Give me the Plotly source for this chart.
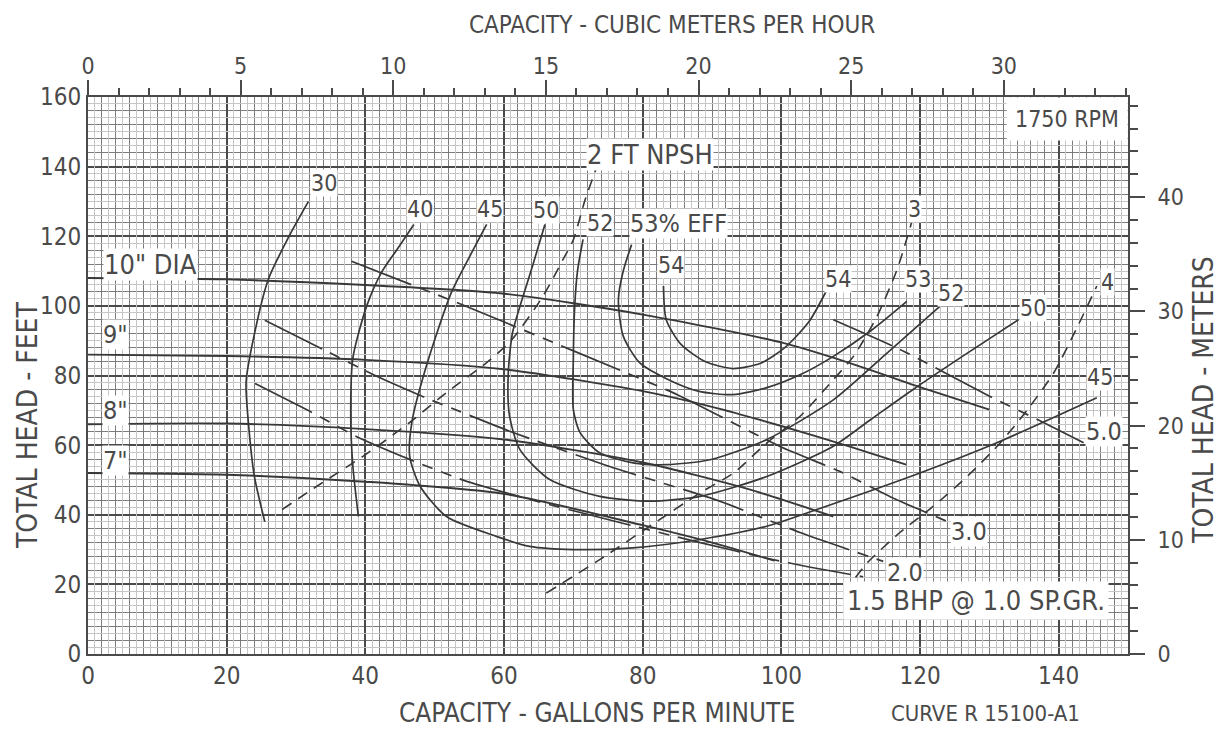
import plotly.graph_objects as go

GPM_TO_M3H = 0.2271247
FT_TO_M = 0.3048
Q_MAX = 150
H_MAX = 160

# ---------------- head-capacity curves (GPM, ft) ----------------
head_10_q = [0, 20, 40, 60, 80, 100, 110, 121, 130]
head_10_h = [108, 107.6, 106, 103.5, 97.5, 89.5, 83.5, 76, 70.2]
head_9_q = [0, 20, 40, 60, 80, 90, 100, 110, 118]
head_9_h = [86, 85.6, 84.5, 81.8, 75.5, 71, 65.5, 59.5, 54.4]
head_8_q = [0, 20, 40, 60, 80, 95, 107.5]
head_8_h = [66, 66.2, 64.6, 61.6, 55, 47.5, 39.5]
head_7_q = [0, 20, 40, 60, 80, 90, 99]
head_7_h = [52, 51.5, 49.5, 46, 37, 32, 26.8]

# ---------------- efficiency curves ----------------
eff_30_q = [31.8, 29.0, 26.0, 23.8, 22.8, 23.2, 24.0, 25.5]
eff_30_h = [130, 120, 107.6, 90, 78, 65, 51, 38]
eff_40_q = [47, 44.5, 42.3, 40.2, 38.2, 37.9, 38.2, 39]
eff_40_h = [123.4, 116, 109.5, 100, 85, 68, 54, 39.5]
eff_45_q = [57.5, 55, 52.4, 48.8, 46.7, 46.4, 47.9, 51.7, 58.9, 63.7, 70, 78.6, 88.3, 97.9, 107, 120, 131, 145.5]
eff_45_h = [123.4, 114, 103.8, 82.7, 66.4, 56.8, 48.2, 39.5, 33.8, 30.9, 30, 30.5, 32.9, 36.7, 42.8, 52, 60.6, 73.6]
eff_50_q = [65.9, 64.2, 62.6, 61.2, 60.6, 60.8, 62.3, 66.6, 73.8, 81, 88.3, 97.9, 107.5, 113, 119, 126.5, 134.2]
eff_50_h = [123.4, 112, 101.8, 92, 80, 68.3, 58.7, 50.1, 45.3, 43.9, 45.3, 51, 59.7, 67.5, 76, 86, 96]
eff_52_q = [71.4, 70.6, 70.2, 70.0, 70.0, 71.0, 73.8, 78.6, 83.5, 89.7, 97.9, 107.5, 115, 122.9]
eff_52_h = [119.1, 110, 99.9, 85, 70.2, 63.5, 57.8, 54.9, 54.4, 55.8, 61.6, 73, 86, 99.9]
eff_53_q = [78.4, 77.2, 76.5, 77.2, 79.6, 83.5, 88, 93, 97.9, 103, 107.5, 113, 118.1]
eff_53_h = [117.6, 110, 101.8, 91.3, 83.6, 79, 75.5, 74.5, 76.5, 80.5, 85.5, 93, 101.3]
eff_54_q = [83, 83.4, 85.5, 89, 93, 97, 100.5, 104, 106.6]
eff_54_h = [105.7, 96, 89, 84, 82, 83.5, 88, 95.5, 104.7]

# ---------------- NPSH curves ----------------
npsh_2_q = [28, 33.4, 39.6, 46.4, 51.7, 57.5, 61, 65.6, 68.5, 70, 71.7, 73.4]
npsh_2_h = [41.5, 48.7, 56.7, 66.5, 75.1, 83.7, 90, 102.7, 113.3, 119, 130.5, 140]
npsh_3_q = [66.1, 73.8, 81, 88.3, 93.1, 97.9, 102.7, 107.5, 110.4, 113.8, 116.7, 118.8]
npsh_3_h = [17.5, 27.1, 36.7, 46.3, 52, 60.6, 68.3, 78.8, 85.5, 97, 110.5, 124]
npsh_4_q = [110.7, 112.4, 117.1, 121.9, 126.8, 131.6, 135.5, 139.3, 142.7, 145.5]
npsh_4_h = [22, 26.2, 34.9, 42.4, 51, 60.7, 70.2, 80.8, 94, 105.7]

# ---------------- BHP lines ----------------
bhp_15_q = [24.1, 32, 38.7, 46.4, 54.3, 63.7, 79.2, 88.3, 98.4, 104, 111.8]
bhp_15_h = [77.7, 69.7, 62.5, 55.9, 49.8, 44.4, 36.5, 32, 27.3, 25, 22.2]
bhp_20_q = [25.5, 33.9, 41.1, 49.3, 53.6, 60.8, 75, 91, 102.7, 114.7]
bhp_20_h = [95.9, 87.5, 80.3, 73.1, 69.7, 64, 54, 44, 34.9, 26.6]
bhp_30_q = [38, 53.9, 69.5, 85, 99.8, 108.5, 115.7, 124]
bhp_30_h = [112.8, 100.4, 87.5, 74.5, 59.6, 52.4, 45.2, 38]
bhp_50_q = [107.5, 117.1, 130.1, 137.8, 143.6]
bhp_50_h = [96, 87.5, 74, 66.5, 60.7]

# tick labels
gpm_ticks = [0, 20, 40, 60, 80, 100, 120, 140]
ft_ticks = [0, 20, 40, 60, 80, 100, 120, 140, 160]
m3h_ticks = [0, 5, 10, 15, 20, 25, 30]
m_ticks = [0, 10, 20, 30, 40]

FONT = "DejaVu Sans Condensed, DejaVu Sans, sans-serif"
INK = "#383838"
TXT = "#4a4a4a"

fig = go.Figure()

def curve(q, h, width=1.6, dash="solid", shape="spline", smoothing=0.7):
    fig.add_trace(go.Scatter(
        x=q, y=h, mode="lines", xaxis="x", yaxis="y",
        line=dict(color=INK, width=width, dash=dash, shape=shape,
                  smoothing=smoothing if shape == "spline" else None),
        showlegend=False, hoverinfo="skip"))

for q, h in [(head_10_q, head_10_h), (head_9_q, head_9_h),
             (head_8_q, head_8_h), (head_7_q, head_7_h)]:
    curve(q, h, width=1.9)

for q, h in [(eff_30_q, eff_30_h), (eff_40_q, eff_40_h), (eff_45_q, eff_45_h),
             (eff_50_q, eff_50_h), (eff_52_q, eff_52_h), (eff_53_q, eff_53_h),
             (eff_54_q, eff_54_h)]:
    curve(q, h, width=1.7)

for q, h in [(npsh_2_q, npsh_2_h), (npsh_3_q, npsh_3_h), (npsh_4_q, npsh_4_h)]:
    curve(q, h, width=1.6, dash="11px,8px")

for q, h in [(bhp_15_q, bhp_15_h), (bhp_20_q, bhp_20_h),
             (bhp_30_q, bhp_30_h), (bhp_50_q, bhp_50_h)]:
    curve(q, h, width=1.7, dash="64px,9px,11px,9px,11px,9px", smoothing=0.5)

# secondary axes (top m3/h, right m) and faint grid axes
fig.add_trace(go.Scatter(x=[None], y=[None], xaxis="x2", yaxis="y2",
                         showlegend=False, hoverinfo="skip"))
fig.add_trace(go.Scatter(x=[None], y=[None], xaxis="x3", yaxis="y3",
                         showlegend=False, hoverinfo="skip"))

MAJOR = "#4a4a4a"
MINOR = "#7c7c7c"
FAINT = "#c6c6c6"

fig.update_layout(
    width=1214, height=723,
    margin=dict(l=80, r=94, t=89, b=77, autoexpand=False),
    paper_bgcolor="white", plot_bgcolor="white",
    font=dict(family=FONT, color=TXT),
    xaxis=dict(range=[0, Q_MAX], tickvals=gpm_ticks, showgrid=True, automargin=False,
               gridcolor=MAJOR, gridwidth=1.6, zeroline=False,
               showline=True, linecolor=MAJOR, linewidth=2, ticks="",
               ticklabelstandoff=-1,
               tickfont=dict(size=24, color=TXT, family=FONT),
               minor=dict(dtick=2, showgrid=True, gridcolor=MINOR, gridwidth=1, ticks="")),
    yaxis=dict(range=[0, H_MAX], tickvals=ft_ticks, showgrid=True, automargin=False,
               gridcolor=MAJOR, gridwidth=1.6, zeroline=False,
               showline=True, linecolor=MAJOR, linewidth=2, ticks="",
               ticklabelstandoff=0,
               tickfont=dict(size=24, color=TXT, family=FONT),
               minor=dict(dtick=4, showgrid=True, gridcolor=MINOR, gridwidth=1, ticks="")),
    xaxis2=dict(overlaying="x", side="top", anchor="y", automargin=False,
                range=[0, Q_MAX * GPM_TO_M3H], tickvals=m3h_ticks,
                showgrid=False, zeroline=False, showline=True,
                linecolor=MAJOR, linewidth=2, ticks="outside", ticklen=15,
                tickwidth=1.5, tickcolor=MAJOR, ticklabelstandoff=-3,
                tickfont=dict(size=23, color=TXT, family=FONT),
                minor=dict(dtick=1, ticks="outside", ticklen=7, tickwidth=1.5,
                           tickcolor=MAJOR, showgrid=False)),
    yaxis2=dict(overlaying="y", side="right", anchor="x", automargin=False,
                range=[0, H_MAX * FT_TO_M], tickvals=m_ticks,
                showgrid=False, zeroline=False, showline=True,
                linecolor=MAJOR, linewidth=2, ticks="outside", ticklen=15,
                tickwidth=1.5, tickcolor=MAJOR, ticklabelstandoff=8,
                tickfont=dict(size=23, color=TXT, family=FONT),
                minor=dict(dtick=2, ticks="outside", ticklen=8, tickwidth=1.5,
                           tickcolor=MAJOR, showgrid=False)),
    xaxis3=dict(overlaying="x", anchor="y", range=[0, Q_MAX], automargin=False,
                tickvals=list(range(1, Q_MAX, 2)), showgrid=True,
                gridcolor=FAINT, gridwidth=1, showticklabels=False,
                ticks="", zeroline=False, showline=False),
    yaxis3=dict(overlaying="y", anchor="x", range=[0, H_MAX], automargin=False,
                tickvals=list(range(2, H_MAX, 4)), showgrid=True,
                gridcolor=FAINT, gridwidth=1, showticklabels=False,
                ticks="", zeroline=False, showline=False),
)

ann = []
def label(text, x, y, size=23, **kw):
    d = dict(text=text, x=x, y=y, xref="x", yref="y", showarrow=False,
             xanchor="center", yanchor="middle",
             font=dict(size=size, color=TXT, family=FONT),
             bgcolor="white", borderpad=0)
    d.update(kw)
    ann.append(d)

label('10" DIA', 9.0, 112.0, size=27)
label('9"', 4.0, 91.8, size=25)
label('8"', 4.0, 70.0, size=25)
label('7"', 4.0, 55.6, size=25)
label("30", 34.1, 135.4)
label("40", 47.9, 127.8)
label("45", 58.0, 127.8)
label("50", 66.0, 127.4)
label("52", 73.8, 123.7)
label("53% EFF", 85.1, 123.7, size=25)
label("54", 84.1, 111.6)
label("2 FT NPSH", 81.1, 143.5, size=27)
label("3", 119.2, 127.8)
label("54", 108.2, 107.6)
label("53", 119.7, 107.6)
label("52", 124.4, 103.6)
label("50", 136.3, 99.5)
label("4", 147.0, 107.0)
label("45", 146.0, 79.7)
label("5.0", 146.5, 64.0, size=25)
label("3.0", 127.0, 35.2, size=25)
label("2.0", 117.9, 23.4, size=25)
label("1.5 BHP @ 1.0 SP.GR.", 128.1, 15.3, size=27, borderpad=3)
label("1750 RPM", Q_MAX, H_MAX, size=23, xanchor="right", yanchor="top", borderpad=8)

def title(text, x, y, size, angle=0):
    ann.append(dict(text=text, x=x, y=y, xref="paper", yref="paper", showarrow=False,
                    xanchor="center", yanchor="middle", textangle=angle,
                    font=dict(size=size, color=TXT, family=FONT)))

title("CAPACITY - CUBIC METERS PER HOUR", 0.5615, 1.129, 24)
title("CAPACITY - GALLONS PER MINUTE", 0.489, -0.106, 26)
title("CURVE R 15100-A1", 0.8625, -0.106, 22)
title("TOTAL HEAD - FEET", -0.0587, 0.411, 28, -90)
title("TOTAL HEAD - METERS", 1.072, 0.456, 28, -90)

fig.update_layout(annotations=ann)

fig.write_html("out.html")
